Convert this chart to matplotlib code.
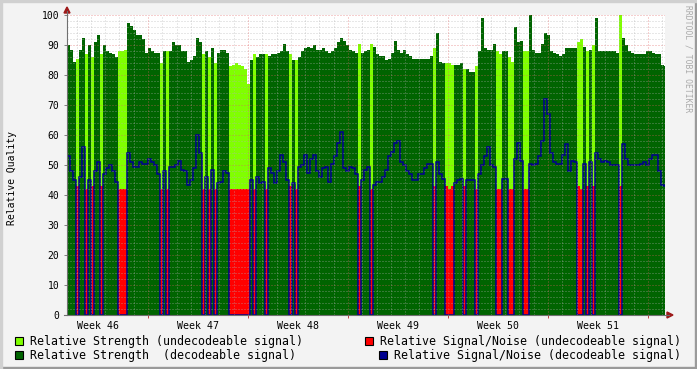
import numpy as np
import matplotlib.pyplot as plt
from matplotlib.patches import Rectangle, Polygon
from matplotlib.lines import Line2D

plt.rcParams['font.family'] = ['DejaVu Sans Mono', 'DejaVu Sans']
plt.rcParams['lines.scale_dashes'] = False

# one sample every 0.21 days (RRD consolidated step), 200 samples
SAMPLE_DAYS = 0.21

# relative strength per sample (0..100)
strength = [
    90, 88.5, 84.5, 85.5, 88.5, 92.5, 87, 90, 86, 91,
    93.5, 87, 90, 88, 87.5, 87, 86, 88, 88, 88.5,
    97.5, 96.5, 95, 93.5, 93.5, 92, 87.5, 89, 88, 87.5,
    87.5, 84, 88, 88, 88, 91, 90, 90, 88, 88,
    84.5, 85, 86.5, 92.5, 91, 87, 88, 86, 89, 84,
    87.5, 88.5, 88.5, 87.5, 83, 83.5, 84, 83.5, 83, 82,
    77, 85, 87, 86, 87, 87, 87, 86.5, 87, 87,
    87.5, 88, 90.5, 88, 87, 85, 85, 86, 88, 89,
    89.5, 89, 90, 88.5, 88.5, 89, 88, 87.5, 88, 89,
    91, 92.5, 91.5, 90, 88.5, 88, 87.5, 90.5, 87.5, 88,
    88.5, 90.5, 89.5, 87, 86.5, 86.5, 85, 85.5, 87.5, 91.5,
    88.5, 87.5, 88.5, 87, 86.5, 85.5, 85.5, 85.5, 85.5, 85.3,
    85.3, 86.5, 89, 94, 84.5, 84, 84, 84, 83.5, 83.5,
    83.5, 84, 82, 82, 81, 81, 83, 88, 99, 89,
    88.5, 88.5, 90.5, 88, 87, 88, 88, 86, 84.5, 96,
    91, 91.5, 88, 88, 100, 88.5, 87.5, 87.5, 90.5, 94,
    93.5, 88, 87.5, 87, 86.5, 87, 89, 89, 89, 89,
    91, 92, 89.5, 88, 88.5, 90, 99, 88, 88, 88,
    88, 88, 88, 87.5, 100, 92.5, 90, 88, 87.2, 87,
    87, 87, 87, 88, 88, 87.5, 87, 87, 83.3, 83,
]

# relative signal/noise per sample
snr = [
    53, 48, 45, 43, 46, 56, 42, 45, 43, 48,
    51, 43, 47, 49, 50, 48, 44.5, 42, 42, 42,
    54, 51, 49.5, 49.5, 51, 50.5, 50.5, 52, 51, 50,
    47, 42, 48, 42, 49.5, 49.5, 50, 51.5, 48.5, 48,
    43.5, 45, 49, 60, 54, 42, 46, 42, 48.5, 42,
    44, 44.5, 48, 47.5, 42, 42, 42, 42, 42, 42,
    42, 45, 42, 46, 44, 44.5, 42, 49, 47.5, 44,
    48, 53.5, 51, 45, 43, 44, 42, 49.5, 50, 53.5,
    47.5, 52, 53.5, 48, 46, 49, 49.5, 44.5, 50.5, 53,
    57.5, 61, 49, 48, 49.5, 49, 47, 43, 45, 48.5,
    49.5, 42, 43.5, 44.5, 44.5, 46, 48.5, 53, 54.5, 57.5,
    58, 51, 50, 48, 47, 45, 45, 47, 47, 49,
    50.5, 50.5, 43, 51, 47, 45.5, 43, 42, 43, 44,
    45, 45.5, 43, 45, 45, 45, 42, 47, 50, 53,
    56, 50, 49.5, 42, 42, 45.5, 45.5, 42, 42, 52,
    57.5, 51.5, 42, 42, 50.5, 50, 50.5, 53, 58, 72,
    67, 54, 51, 50.5, 50.5, 53.5, 57, 48, 51.5, 51,
    43, 42, 50.5, 43, 51, 43, 54, 52, 51, 51.5,
    51, 50, 50, 50, 43, 57, 52, 50, 50, 50,
    50, 50.5, 51, 50, 52, 53.5, 53.5, 48, 43.5, 43,
]

# 1 = decodeable signal, 0 = undecodeable
decoded = [
    1, 1, 1, 0, 1, 1, 0, 1, 0, 1,
    1, 0, 1, 1, 1, 1, 1, 0, 0, 0,
    1, 1, 1, 1, 1, 1, 1, 1, 1, 1,
    1, 0, 1, 0, 1, 1, 1, 1, 1, 1,
    1, 1, 1, 1, 1, 0, 1, 0, 1, 0,
    1, 1, 1, 1, 0, 0, 0, 0, 0, 0,
    0, 1, 0, 1, 1, 1, 0, 1, 1, 1,
    1, 1, 1, 1, 0, 1, 0, 1, 1, 1,
    1, 1, 1, 1, 1, 1, 1, 1, 1, 1,
    1, 1, 1, 1, 1, 1, 1, 0, 1, 1,
    1, 0, 1, 1, 1, 1, 1, 1, 1, 1,
    1, 1, 1, 1, 1, 1, 1, 1, 1, 1,
    1, 1, 0, 1, 1, 1, 0, 0, 0, 1,
    1, 1, 0, 1, 1, 1, 0, 1, 1, 1,
    1, 1, 1, 0, 0, 1, 1, 0, 0, 1,
    1, 1, 0, 0, 1, 1, 1, 1, 1, 1,
    1, 1, 1, 1, 1, 1, 1, 1, 1, 1,
    0, 0, 1, 0, 1, 0, 1, 1, 1, 1,
    1, 1, 1, 1, 0, 1, 1, 1, 1, 1,
    1, 1, 1, 1, 1, 1, 1, 1, 1, 1,
]

week_labels = ["Week 46", "Week 47", "Week 48", "Week 49", "Week 50", "Week 51"]
legend_labels = ["Relative Strength (undecodeable signal)",
                 "Relative Strength  (decodeable signal)",
                 "Relative Signal/Noise (undecodeable signal)",
                 "Relative Signal/Noise (decodeable signal)"]

LIGHT = '#80FF00'
DARK = '#006400'
RED = '#FF0000'
BLUE = '#000090'

W, H = 697, 369
fig = plt.figure(figsize=(W / 100, H / 100), dpi=100, facecolor='#F3F3F3')

def fx(x):
    return x / W

def fy(y):
    return 1 - y / H

ax = fig.add_axes([fx(67), 54 / H, 598 / W, 300 / H])
ax.set_facecolor('white')
span = 598 * 0.07
ax.set_xlim(0, span)
ax.set_ylim(0, 100)

S = np.array(strength, dtype=float)
N = np.array(snr, dtype=float)
D = np.array(decoded)
edges = np.arange(len(S) + 1) * SAMPLE_DAYS

ax.stairs(np.where(D == 0, S, 0), edges, fill=True, color=LIGHT, lw=0, antialiased=False, zorder=1)
ax.stairs(np.where(D == 1, S, 0), edges, fill=True, color=DARK, lw=0, antialiased=False, zorder=1)
ax.stairs(np.where(D == 0, N, 0), edges, fill=True, color=RED, lw=0, antialiased=False, zorder=2)
ax.stairs(N * D, edges, baseline=None, fill=False, color=BLUE, lw=1.1, zorder=3)

# grid (drawn over the data like rrdtool)
dots = (0, (0.72, 1.44))
for v in range(2, 101, 2):
    if v % 10:
        ax.axhline(v, color='#B0B0B0', lw=0.72, ls=dots, alpha=0.6, zorder=4)
    else:
        ax.axhline(v, color='#E06060', lw=0.72, ls=dots, alpha=0.6, zorder=4)

week0 = (148 - 67) * 0.07  # first week boundary, in days
day = week0 - 5
while day < span:
    if abs((day - week0) % 7) < 1e-6 or abs((day - week0) % 7 - 7) < 1e-6:
        ax.axvline(day, color='#E06060', lw=0.72, ls=dots, alpha=0.6, zorder=4)
    else:
        ax.axvline(day, color='#B0B0B0', lw=0.72, ls=dots, alpha=0.6, zorder=4)
    day += 1

for s in ax.spines.values():
    s.set_visible(False)

label_pos = [week0 - 3.5 + 7 * k for k in range(len(week_labels))]
ax.set_xticks(label_pos)
ax.set_xticklabels(week_labels, fontsize=7.1)
major_pos = [week0 + 7 * k for k in range(6)]
ax.set_xticks(major_pos + label_pos, minor=True)
ax.tick_params(axis='x', which='major', length=0, pad=4.5)
ax.tick_params(axis='x', which='minor', length=2, color='#C04040', width=0.7)
ax.set_yticks(range(0, 101, 10))
ax.tick_params(axis='y', length=2.5, color='#808080', width=0.7, labelsize=7, pad=3)

# axis lines and arrows
fig.add_artist(Line2D([fx(67), fx(67)], [fy(315), fy(11)], color='#707070', lw=0.8))
fig.add_artist(Line2D([fx(64), fx(669)], [fy(315), fy(315)], color='#707070', lw=0.8))
fig.add_artist(Polygon([(fx(64), fy(13)), (fx(70), fy(13)), (fx(67), fy(7))],
                       closed=True, color='#9E1A1A', transform=fig.transFigure))
fig.add_artist(Polygon([(fx(667), fy(312)), (fx(667), fy(318)), (fx(673), fy(315))],
                       closed=True, color='#9E1A1A', transform=fig.transFigure))

fig.text(fx(12), fy(178), 'Relative Quality', rotation=90, ha='center', va='center', fontsize=7)
fig.text(fx(688), fy(5), 'RRDTOOL / TOBI OETIKER', rotation=270, ha='center', va='top',
         fontsize=5.8, color='#AAAAAA')

# legend
legend_items = [
    (15, 337, 30, LIGHT, legend_labels[0]),
    (15, 351, 30, DARK, legend_labels[1]),
    (365, 337, 380, RED, legend_labels[2]),
    (379, 351, 394, BLUE, legend_labels[3]),
]
for bx, by, tx, col, lab in legend_items:
    fig.add_artist(Rectangle((fx(bx), fy(by + 8)), 8 / W, 8 / H, transform=fig.transFigure,
                             facecolor=col, edgecolor='black', lw=0.8))
    fig.text(fx(tx), fy(by + 4), lab, ha='left', va='center', fontsize=8.4, color='black')

# frame
fig.add_artist(Rectangle((0, 0), 1, 2 / H, transform=fig.transFigure, color='#9A9A9A'))
fig.add_artist(Rectangle((1 - 2 / W, 0), 2 / W, 1, transform=fig.transFigure, color='#9A9A9A'))
fig.add_artist(Rectangle((0, 1 - 2 / H), 1, 2 / H, transform=fig.transFigure, color='#D0D0D0'))
fig.add_artist(Rectangle((0, 0), 2 / W, 1, transform=fig.transFigure, color='#D0D0D0'))

fig.savefig('out.png', dpi=100, facecolor=fig.get_facecolor())
